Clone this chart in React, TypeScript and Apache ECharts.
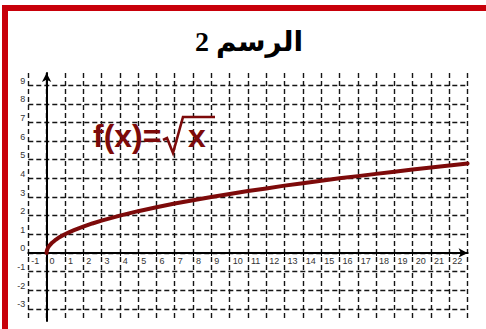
import React, { useEffect, useRef } from "react";
import * as echarts from "echarts";

const titleText = "الرسم 2";
const formulaLeft = "f(x)=";
const formulaRight = "x";
const curveX = [0, 0.005, 0.02, 0.05, 0.1, 0.18, 0.3, 0.45, 0.65, 0.85, 1, 1.25, 1.5, 1.75, 2, 2.5, 3, 3.5, 4, 5, 6, 7, 8, 9, 10, 11, 12, 13, 14, 15, 16, 17, 18, 19, 20, 21, 22, 23];
const curveY = [0, 0.07, 0.14, 0.22, 0.32, 0.42, 0.55, 0.67, 0.81, 0.92, 1, 1.12, 1.22, 1.32, 1.41, 1.58, 1.73, 1.87, 2, 2.24, 2.45, 2.65, 2.83, 3, 3.16, 3.32, 3.46, 3.61, 3.74, 3.87, 4, 4.12, 4.24, 4.36, 4.47, 4.58, 4.69, 4.8];
const xRange = [-1, 23];
const yRange = [-3.65, 9.65];

export default function App() {
  const ref = useRef<HTMLDivElement>(null);
  useEffect(() => {
    if (!ref.current) return;
    const chart = echarts.init(ref.current, undefined, { renderer: "svg" });
    const data = curveX.map((x, i) => [x, curveY[i]]);
    const gridLine = { show: true, lineStyle: { color: "#151515", width: 1.4, type: [5, 3] as any } };
    const gridTop = 73;
    const gridBottom = 8;
    const gridHeight = 329 - gridTop - gridBottom;
    const zeroOffset = -(gridHeight * (0 - yRange[0])) / (yRange[1] - yRange[0]);
    const red = "#7d0a0a";
    chart.setOption({
      animation: false,
      backgroundColor: "#fff",
      grid: {
        left: 28.3,
        right: 18.4,
        top: gridTop,
        bottom: gridBottom,
        containLabel: false,
        outerBoundsMode: "none",
      },
      xAxis: {
        type: "value",
        min: xRange[0],
        max: xRange[1],
        interval: 1,
        position: "bottom",
        offset: zeroOffset,
        axisLine: {
          onZero: false,
          symbol: ["none", "arrow"],
          symbolSize: [7, 9],
          lineStyle: { color: "#000", width: 2 },
        },
        axisTick: { show: true, length: 3, lineStyle: { color: "#000" } },
        axisLabel: {
          showMaxLabel: false,
          align: "left",
          margin: 4,
          padding: [0, 0, 0, 3],
          fontSize: 9,
          color: "#333",
          fontFamily: "Liberation Sans, Arial, sans-serif",
        },
        splitLine: gridLine,
      },
      yAxis: {
        type: "value",
        min: yRange[0],
        max: yRange[1],
        splitNumber: 13,
        minInterval: 1,
        maxInterval: 1,
        axisLine: {
          onZero: true,
          symbol: ["none", "arrow"],
          symbolSize: [7, 9],
          lineStyle: { color: "#000", width: 2 },
        },
        axisTick: { show: false },
        axisLabel: {
          margin: 3,
          verticalAlign: "bottom",
          fontSize: 9,
          color: "#333",
          fontFamily: "Liberation Sans, Arial, sans-serif",
          showMinLabel: false,
          showMaxLabel: false,
          formatter: (v: number) => (Number.isInteger(v) ? String(v) : ""),
        },
        splitLine: { ...gridLine, showMinLine: false, showMaxLine: false },
      },
      series: [
        {
          type: "line",
          data,
          smooth: false,
          showSymbol: false,
          lineStyle: { color: red, width: 4, cap: "round", join: "round" },
          z: 5,
        },
      ],
      graphic: [
        {
          type: "rect",
          shape: { x: 5, y: 8, width: 700, height: 600 },
          style: { fill: "none", stroke: "#c8000a", lineWidth: 6 },
          z: 10,
        },
        {
          type: "text",
          x: 249,
          y: 41,
          style: {
            text: titleText,
            align: "center",
            verticalAlign: "middle",
            font: "bold 28px 'Liberation Serif', 'DejaVu Sans', serif",
            fill: "#000",
          },
          z: 10,
        },
        {
          type: "text",
          x: 93,
          y: 136,
          style: {
            text: formulaLeft,
            align: "left",
            verticalAlign: "middle",
            font: "bold 32px 'Liberation Sans', Arial, sans-serif",
            fill: red,
          },
          z: 10,
        },
        {
          type: "polyline",
          shape: { points: [[163, 140], [167, 138], [173, 153], [183, 117], [215, 117]] },
          style: { stroke: red, lineWidth: 2.6, fill: "none", lineJoin: "miter" },
          z: 10,
        },
        {
          type: "text",
          x: 188,
          y: 136,
          style: {
            text: formulaRight,
            align: "left",
            verticalAlign: "middle",
            font: "bold 32px 'Liberation Sans', Arial, sans-serif",
            fill: red,
          },
          z: 10,
        },
      ],
    });
    return () => chart.dispose();
  }, []);
  return (
    <div
      ref={ref}
      style={{ position: "fixed", left: 0, top: 0, width: 486, height: 329 }}
    />
  );
}
